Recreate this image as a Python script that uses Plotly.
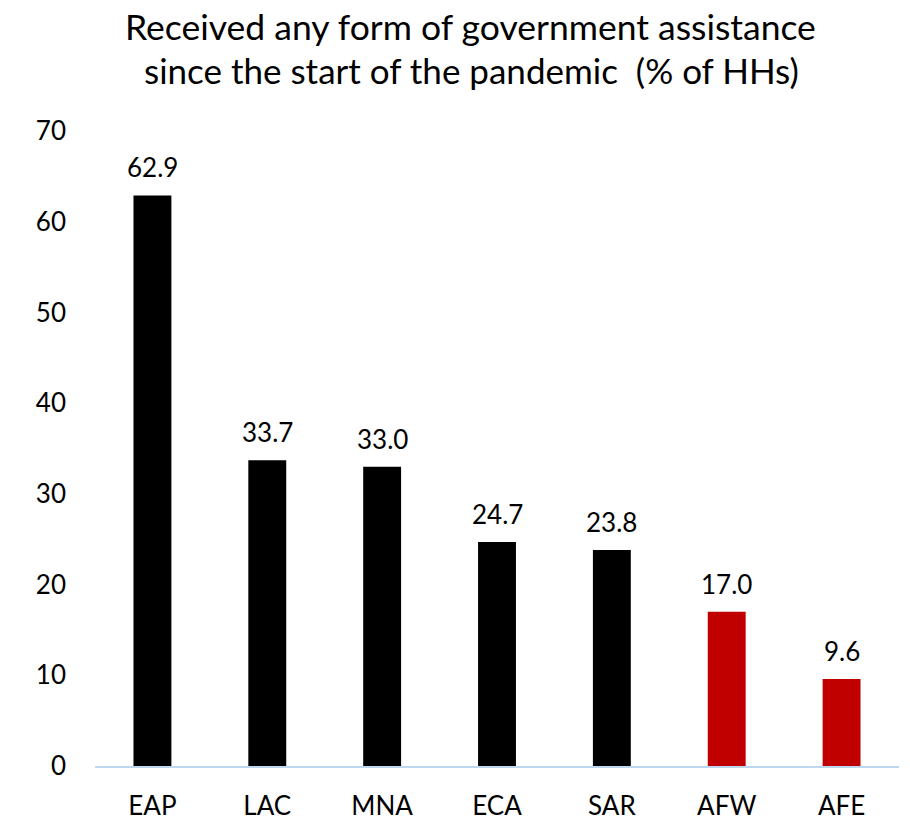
import plotly.graph_objects as go

categories = ["EAP", "LAC", "MNA", "ECA", "SAR", "AFW", "AFE"]
values = [62.9, 33.7, 33.0, 24.7, 23.8, 17.0, 9.6]
colors = ["#000000"] * 5 + ["#C00000"] * 2
labels = [f"{v:.1f}" for v in values]
title_lines = ["Received any form of government assistance",
               "since the start of the pandemic  (% of HHs)"]

fig = go.Figure(go.Bar(
    x=categories, y=values, marker_color=colors, marker_line_width=0,
))

for c, v, t in zip(categories, values, labels):
    fig.add_annotation(x=c, y=v, text=t, showarrow=False, yanchor="middle",
                       yshift=28, font=dict(size=26, color="#000000"))

fig.add_annotation(xref="paper", yref="paper", x=0.4665, y=1.1645, text=title_lines[0],
                   showarrow=False, xanchor="center", yanchor="middle", borderpad=0,
                   font=dict(size=35.5, color="#000000"))
fig.add_annotation(xref="paper", yref="paper", x=0.468, y=1.0955, text=title_lines[1],
                   showarrow=False, xanchor="center", yanchor="middle", borderpad=0,
                   font=dict(size=35, color="#000000"))

fig.update_layout(
    width=910, height=820,
    margin=dict(l=87, r=19, t=123, b=62),
    paper_bgcolor="white", plot_bgcolor="white",
    font=dict(family="Lato, Liberation Sans, sans-serif", color="#000000"),
    bargap=0.67,
    showlegend=False,
)
fig.update_xaxes(showline=True, linecolor="#BDD7EE", linewidth=2, ticks="",
                 tickfont=dict(size=26), showgrid=False, ticklabelstandoff=16,
                 automargin=False)
fig.update_yaxes(range=[0, 70], dtick=10, showgrid=False, zeroline=False,
                 tickfont=dict(size=26), ticks="", showline=False,
                 ticklabelstandoff=28, automargin=False)

fig.write_html("out.html")
